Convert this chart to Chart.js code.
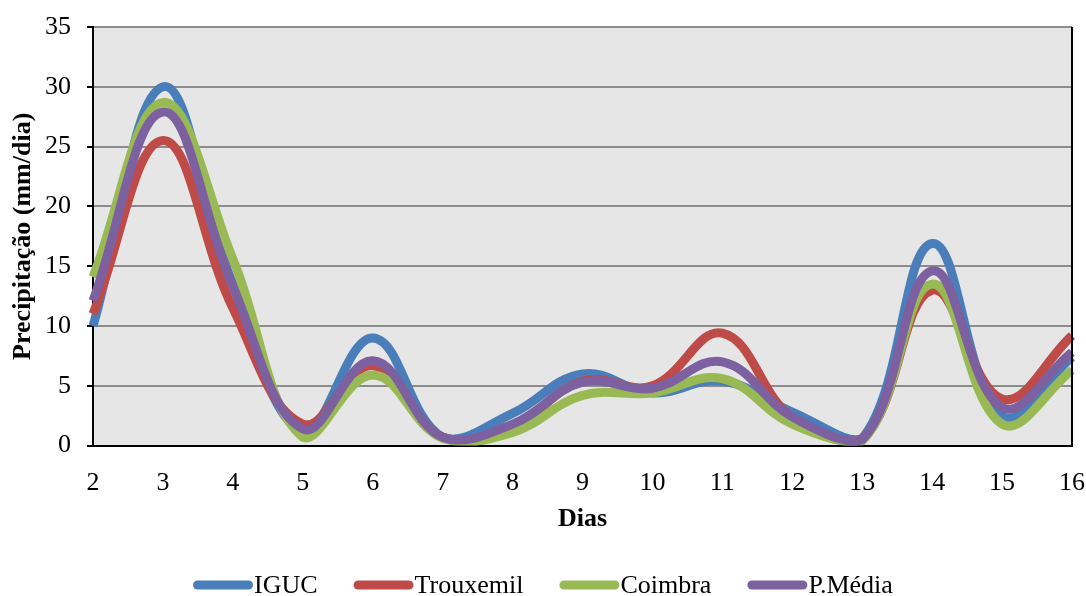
<!DOCTYPE html>
<html>
<head>
<meta charset="utf-8">
<script src="https://cdn.jsdelivr.net/npm/chart.js@4/dist/chart.umd.min.js"></script>
<style>
  html, body { margin: 0; padding: 0; background: #ffffff; }
  #wrap { width: 1086px; height: 596px; position: relative; }
</style>
</head>
<body>
<div id="wrap"><canvas id="c" width="1086" height="596"></canvas></div>
<script>
// Daily precipitation (mm/dia) per station, days 2 to 16
const dias = ['2','3','4','5','6','7','8','9','10','11','12','13','14','15','16'];
const iguc      = [10.0, 30.0, 13.5, 1.2, 9.0, 0.7, 2.7, 6.0, 4.4, 5.4, 2.8, 0.6, 16.9, 2.5, 7.4];
const trouxemil = [11.0, 25.5, 11.5, 1.8, 6.7, 0.7, 1.6, 5.4, 5.0, 9.4, 2.3, 0.5, 13.0, 3.9, 9.2];
const coimbra   = [14.1, 28.7, 15.6, 0.7, 5.9, 0.6, 1.1, 4.2, 4.4, 5.6, 1.8, 0.4, 13.5, 1.8, 6.3];
const pMedia    = [12.1, 27.9, 13.3, 1.4, 7.1, 0.7, 1.8, 5.3, 4.8, 7.0, 2.4, 0.5, 14.6, 3.2, 7.8];

const seriesNames = ['IGUC', 'Trouxemil', 'Coimbra', 'P.Média'];
const seriesColors = ['#4a7ebb', '#be4b48', '#98b954', '#7d60a0'];
const seriesData = [iguc, trouxemil, coimbra, pMedia];

const serif = "'Liberation Serif', 'Times New Roman', serif";

// Grey plot background
const plotBackground = {
  id: 'plotBackground',
  beforeDraw(chart) {
    const { ctx, chartArea: a } = chart;
    ctx.save();
    ctx.fillStyle = '#e6e6e6';
    ctx.fillRect(a.left, a.top, a.right - a.left, a.bottom - a.top);
    ctx.restore();
  }
};

// Right border of the plot area
const plotBorder = {
  id: 'plotBorder',
  afterDraw(chart) {
    const { ctx, chartArea: a } = chart;
    ctx.save();
    ctx.strokeStyle = '#000';
    ctx.lineWidth = 2;
    ctx.beginPath();
    ctx.moveTo(a.right, a.top);
    ctx.lineTo(a.right, a.bottom + 1);
    ctx.stroke();
    ctx.restore();
  }
};

// Legend row under the axis title: thick rounded swatch followed by the name
const lineLegend = {
  id: 'lineLegend',
  afterDraw(chart) {
    const { ctx } = chart;
    const y = 585;
    const swatchW = 60, swatchH = 9, gap = 1, spacing = 36;
    ctx.save();
    ctx.font = '26px ' + serif;
    ctx.textBaseline = 'middle';
    const widths = seriesNames.map(n => ctx.measureText(n).width);
    let x = 193;
    seriesNames.forEach((name, i) => {
      ctx.strokeStyle = seriesColors[i];
      ctx.lineWidth = swatchH;
      ctx.lineCap = 'round';
      ctx.beginPath();
      ctx.moveTo(x + swatchH / 2, y);
      ctx.lineTo(x + swatchW - swatchH / 2, y);
      ctx.stroke();
      ctx.fillStyle = '#000';
      ctx.fillText(name, x + swatchW + gap, y + 1);
      x += swatchW + gap + widths[i] + spacing;
    });
    ctx.restore();
  }
};

new Chart(document.getElementById('c'), {
  type: 'line',
  data: {
    labels: dias,
    datasets: seriesNames.map((name, i) => ({
      label: name,
      data: seriesData[i],
      borderColor: seriesColors[i],
      backgroundColor: seriesColors[i],
      borderWidth: 9,
      pointRadius: 0,
      tension: 0.4,
      fill: false,
      order: seriesNames.length - 1 - i
    }))
  },
  options: {
    responsive: false,
    animation: false,
    layout: { padding: { left: 0, right: 14, top: 27, bottom: 61 } },
    plugins: {
      legend: { display: false },
      tooltip: { enabled: false }
    },
    scales: {
      x: {
        offset: false,
        grid: { display: false, drawTicks: false },
        border: { display: true, color: '#000', width: 2 },
        ticks: { color: '#000', font: { family: serif, size: 26 }, padding: 22, maxRotation: 0, autoSkip: false },
        title: { display: true, text: 'Dias', color: '#000', font: { family: serif, size: 26, weight: 'bold' }, padding: { top: -17, bottom: 0 } },
        afterFit(scale) { scale.paddingLeft = 0; scale.paddingRight = 0; }
      },
      y: {
        min: 0,
        max: 35,
        ticks: { stepSize: 5, color: '#000', font: { family: serif, size: 26 }, padding: 16 },
        grid: { color: '#8c8c8c', lineWidth: 2, tickColor: '#000', tickLength: 6, tickWidth: 2 },
        border: { display: true, color: '#000', width: 2 },
        title: { display: true, text: 'Precipitação (mm/dia)', color: '#000', font: { family: serif, size: 26, weight: 'bold' }, padding: { top: 8, bottom: 0 } },
        afterFit(scale) { scale.width = 93; scale.paddingTop = 0; scale.paddingBottom = 0; }
      }
    }
  },
  plugins: [plotBackground, plotBorder, lineLegend]
});
</script>
</body>
</html>
